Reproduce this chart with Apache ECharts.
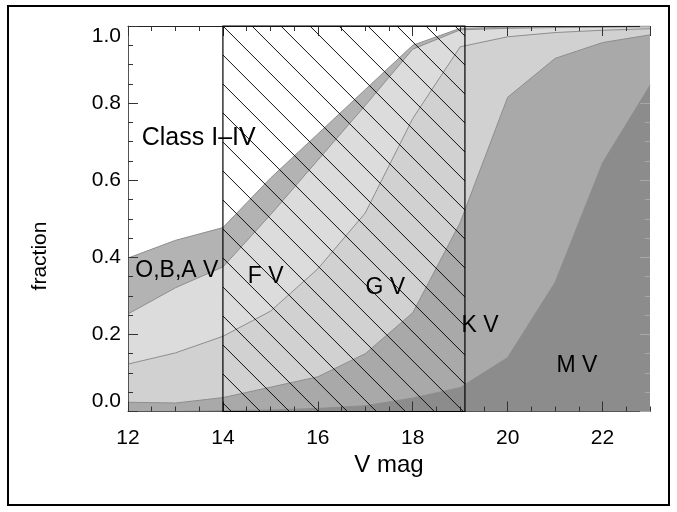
<!DOCTYPE html>
<html>
<head>
<meta charset="utf-8">
<script src="https://cdn.jsdelivr.net/npm/echarts@6/dist/echarts.min.js"></script>
<style>
  html, body { margin: 0; padding: 0; background: #fff; }
  #chart { width: 677px; height: 512px; }
</style>
</head>
<body>
<div id="chart"></div>
<script>
// V magnitude grid
const vmag = [12, 13, 14, 15, 16, 17, 18, 19, 20, 21, 22, 23];

// Fraction of stars in each class at each magnitude (listed bottom to top of the stack)
const mDwarfs   = [0.000, 0.000, 0.002, 0.004, 0.008, 0.015, 0.035, 0.062, 0.140, 0.335, 0.645, 0.846];
const kDwarfs   = [0.024, 0.022, 0.034, 0.059, 0.082, 0.135, 0.221, 0.428, 0.675, 0.581, 0.312, 0.131];
const gDwarfs   = [0.099, 0.130, 0.159, 0.197, 0.280, 0.365, 0.504, 0.456, 0.157, 0.067, 0.032, 0.016];
const fDwarfs   = [0.130, 0.169, 0.180, 0.250, 0.282, 0.279, 0.180, 0.044, 0.022, 0.013, 0.008, 0.005];
const obaDwarfs = [0.145, 0.123, 0.102, 0.095, 0.068, 0.041, 0.010, 0.004, 0.003, 0.002, 0.002, 0.002];
const giants    = [0.602, 0.556, 0.523, 0.395, 0.280, 0.165, 0.050, 0.006, 0.003, 0.002, 0.001, 0.000];

const layerNames = ['M V', 'K V', 'G V', 'F V', 'O,B,A V', 'Class I\u2013IV'];
const layerData  = [mDwarfs, kDwarfs, gDwarfs, fDwarfs, obaDwarfs, giants];
const layerFills = ['#8c8c8c', '#a9a9a9', '#d1d1d1', '#dcdcdc', '#b3b3b3', '#ffffff'];

// Magnitude window of the survey (hatched)
const windowStart = 14.0;
const windowEnd = 19.1;

// In-plot annotations: text and its anchor in (V mag, fraction)
const noteTexts   = ['Class I\u2013IV', 'O,B,A V', 'F V', 'G V', 'K V', 'M V'];
const noteAnchors = [[13.49, 0.71], [13.03, 0.366], [14.90, 0.349], [17.42, 0.32], [19.42, 0.223], [21.46, 0.12]];

// Axis ticks
const xMajorStep = 2, xMinorStep = 0.5;
const yMajorStep = 0.2;

const FONT = 'Liberation Sans, Arial, Helvetica, sans-serif';

// Running totals: upper edge of each band
const upperEdges = [];
let running = vmag.map(() => 0);
layerData.forEach(layer => {
  running = running.map((s, j) => s + layer[j]);
  upperEdges.push(running.slice());
});

const chart = echarts.init(document.getElementById('chart'), null, { renderer: 'canvas' });

// Each band is filled from its upper edge down to zero; lower bands are painted later, on top.
const areaSeries = layerNames.map((name, i) => ({
  name: name,
  type: 'line',
  xAxisIndex: 0,
  yAxisIndex: 0,
  data: vmag.map((v, j) => [v, Math.min(1, upperEdges[i][j])]),
  symbol: 'none',
  smooth: false,
  lineStyle: { color: '#8e8e8e', width: i === layerNames.length - 1 ? 0 : 1 },
  areaStyle: { color: layerFills[i], opacity: 1, origin: 'start' },
  z: 2 + (layerNames.length - i) * 0.1,
  silent: true
})).reverse();

const hatchSeries = {
  type: 'custom',
  xAxisIndex: 0,
  yAxisIndex: 0,
  data: [[windowStart, windowEnd]],
  clip: false,
  z: 6,
  silent: true,
  renderItem: function (params, api) {
    const tl = api.coord([api.value(0), 1]);
    const br = api.coord([api.value(1), 0]);
    const x0 = tl[0], y0 = tl[1], x1 = br[0], y1 = br[1];
    const step = 29;
    const base = y0 - x0;
    const kMin = Math.ceil((x0 - x1) / step);
    const kMax = Math.floor((y1 - y0) / step);
    const children = [];
    for (let k = kMin; k <= kMax; k++) {
      const c = base + k * step;
      const xa = Math.max(x0, y0 - c);
      const xb = Math.min(x1, y1 - c);
      if (xb - xa > 0.5) {
        children.push({
          type: 'line',
          shape: { x1: xa, y1: xa + c, x2: xb, y2: xb + c },
          style: { stroke: '#111', lineWidth: 1 }
        });
      }
    }
    children.push({
      type: 'rect',
      shape: { x: x0, y: y0, width: x1 - x0, height: y1 - y0 },
      style: { fill: 'none', stroke: '#000', lineWidth: 1.2 }
    });
    return { type: 'group', children: children };
  }
};

const noteSeries = {
  type: 'custom',
  xAxisIndex: 0,
  yAxisIndex: 0,
  data: noteAnchors.map((p, i) => [p[0], p[1], i]),
  clip: false,
  z: 8,
  silent: true,
  renderItem: function (params, api) {
    const pt = api.coord([api.value(0), api.value(1)]);
    const idx = api.value(2);
    return {
      type: 'text',
      x: pt[0],
      y: pt[1],
      style: {
        text: noteTexts[idx],
        fill: '#000',
        font: (idx === 0 ? '25px ' : '23px ') + FONT,
        align: 'center',
        verticalAlign: 'middle'
      }
    };
  }
};

const tickText = { color: '#000', fontSize: 21, fontFamily: FONT };

function xAxisDef(position, step, tickLen, withLabels, lineColor) {
  return {
    type: 'value', min: 12, max: 23, interval: step, position: position,
    z: 5,
    axisLine: { show: lineColor !== null, lineStyle: { color: lineColor || '#000', width: 1 } },
    axisTick: { show: true, inside: true, length: tickLen, lineStyle: { color: '#333', width: 1 } },
    axisLabel: withLabels
      ? Object.assign({ show: true, margin: 16, showMaxLabel: false, showMinLabel: true }, tickText)
      : { show: false },
    splitLine: { show: false },
    name: withLabels ? 'V mag' : '',
    nameLocation: 'middle',
    nameGap: 42,
    nameTextStyle: { color: '#000', fontSize: 24, fontFamily: FONT }
  };
}

const option = {
  animation: false,
  backgroundColor: '#fff',
  grid: { left: 128, top: 26, right: 27, bottom: 100.5, containLabel: false, outerBoundsMode: 'none' },
  xAxis: [
    xAxisDef('bottom', xMajorStep, 10, true, '#555'),
    xAxisDef('bottom', xMinorStep, 5, false, null),
    xAxisDef('top', xMajorStep, 10, false, '#222'),
    xAxisDef('top', xMinorStep, 5, false, null)
  ],
  yAxis: [
    {
      type: 'value', min: 0, max: 1, interval: yMajorStep, position: 'left', z: 5,
      axisLine: { show: true, lineStyle: { color: '#555', width: 1 } },
      axisTick: { show: true, inside: true, length: 10, lineStyle: { color: '#333' } },
      minorTick: { show: true, splitNumber: 4, length: 5, lineStyle: { color: '#333' } },
      axisLabel: Object.assign({
        margin: 7,
        formatter: v => v.toFixed(1),
        verticalAlignMinLabel: 'bottom',
        verticalAlignMaxLabel: 'top'
      }, tickText),
      splitLine: { show: false }
    },
    {
      type: 'value', min: 0, max: 1, interval: yMajorStep, position: 'right', z: 5,
      axisLine: { show: false },
      axisTick: { show: true, inside: true, length: 10, lineStyle: { color: '#a8a8a8' } },
      minorTick: { show: true, splitNumber: 4, length: 5, lineStyle: { color: '#a8a8a8' } },
      axisLabel: { show: false },
      splitLine: { show: false }
    }
  ],
  graphic: [
    {
      type: 'rect',
      shape: { x: 8, y: 6, width: 661, height: 499 },
      style: { fill: 'none', stroke: '#000', lineWidth: 2 },
      silent: true,
      z: 100
    },
    {
      type: 'text',
      x: 40, y: 256,
      rotation: Math.PI / 2,
      style: { text: 'fraction', fill: '#000', font: '21px ' + FONT, align: 'center', verticalAlign: 'middle' },
      silent: true,
      z: 100
    }
  ],
  series: areaSeries.concat([hatchSeries, noteSeries])
};

chart.setOption(option);
</script>
</body>
</html>
